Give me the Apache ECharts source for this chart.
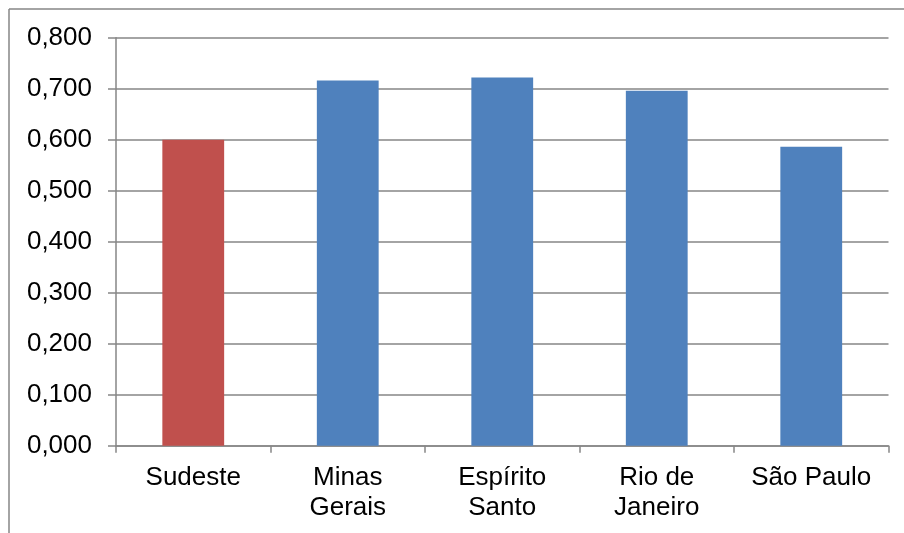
<!DOCTYPE html>
<html>
<head>
<meta charset="utf-8">
<script src="https://cdn.jsdelivr.net/npm/echarts@6/dist/echarts.min.js"></script>
<style>
  html, body { margin: 0; padding: 0; background: #fff; }
  #chart { width: 904px; height: 533px; }
</style>
</head>
<body>
<div id="chart"></div>
<script>
// Regions of the Southeast and their index values
const categories = ['Sudeste', 'Minas\nGerais', 'Espírito\nSanto', 'Rio de\nJaneiro', 'São Paulo'];
const values = [0.600, 0.716, 0.722, 0.696, 0.586];
const barColors = ['#C0504D', '#4F81BD', '#4F81BD', '#4F81BD', '#4F81BD'];
const yTicks = { min: 0, max: 0.8, interval: 0.1 };

const gray = '#868686';
const font = '"Liberation Sans", Arial, sans-serif';

const chart = echarts.init(document.getElementById('chart'), null, { renderer: 'canvas' });
chart.setOption({
  animation: false,
  backgroundColor: '#fff',
  grid: { left: 116, right: 15.5, top: 37.7, bottom: 87.3, containLabel: false },
  xAxis: {
    type: 'category',
    data: categories,
    axisLine: { lineStyle: { color: gray, width: 1.5 } },
    axisTick: { show: true, length: 7, lineStyle: { color: gray, width: 1.5 } },
    axisLabel: { color: '#000', fontSize: 26, fontFamily: font, lineHeight: 30, margin: 17, interval: 0 }
  },
  yAxis: {
    type: 'value',
    min: yTicks.min, max: yTicks.max, interval: yTicks.interval,
    axisLine: { show: true, lineStyle: { color: gray, width: 1.5 } },
    axisTick: { show: true, length: 8, lineStyle: { color: gray, width: 1.5 } },
    splitLine: { lineStyle: { color: gray, width: 1.5 } },
    axisLabel: {
      color: '#000', fontSize: 26, fontFamily: font, margin: 24,
      formatter: v => v.toFixed(3).replace('.', ',')
    }
  },
  series: [{
    type: 'bar',
    data: values.map((v, i) => ({ value: v, itemStyle: { color: barColors[i] } })),
    barWidth: '40%',
    itemStyle: { borderWidth: 0 }
  }],
  graphic: [
    { type: 'line', shape: { x1: 9, y1: 9, x2: 904, y2: 9 }, style: { stroke: gray, lineWidth: 1.5 } },
    { type: 'line', shape: { x1: 9, y1: 9, x2: 9, y2: 533 }, style: { stroke: gray, lineWidth: 1.5 } }
  ]
});
</script>
</body>
</html>
